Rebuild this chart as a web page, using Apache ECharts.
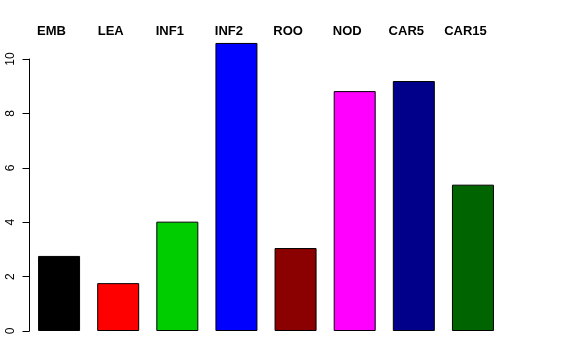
<!DOCTYPE html>
<html>
<head>
<meta charset="utf-8">
<script src="https://cdn.jsdelivr.net/npm/echarts@6/dist/echarts.min.js"></script>
<style>html,body{margin:0;padding:0;background:#fff}#c{width:576px;height:360px}</style>
</head>
<body>
<div id="c"></div>
<script>
var categories = ["EMB", "LEA", "INF1", "INF2", "ROO", "NOD", "CAR5", "CAR15"];
var values = [2.76, 1.76, 4.02, 10.59, 3.05, 8.82, 9.19, 5.38];
var barColors = ["#000000", "#FF0000", "#00CD00", "#0000FF", "#8B0000", "#FF00FF", "#00008B", "#006400"];
var yTicks = [0, 2, 4, 6, 8, 10];

var chart = echarts.init(document.getElementById('c'), null, {renderer: 'canvas'});
chart.setOption({
  animation: false,
  backgroundColor: '#ffffff',
  grid: {left: 29.5, right: 73.5, top: 59, bottom: 29, containLabel: false},
  xAxis: {
    type: 'category',
    data: categories,
    position: 'top',
    axisLine: {show: false},
    axisTick: {show: false},
    axisLabel: {
      margin: 21,
      fontFamily: 'Liberation Sans, Arial, sans-serif',
      fontSize: 13,
      fontWeight: 'bold',
      color: '#000',
      padding: [0, 15, 0, 0]
    }
  },
  yAxis: {
    type: 'value',
    min: yTicks[0],
    max: yTicks[yTicks.length - 1],
    interval: 2,
    splitLine: {show: false},
    axisLine: {show: true, lineStyle: {color: '#000', width: 1}},
    axisTick: {show: true, length: 7, lineStyle: {color: '#000'}},
    axisLabel: {
      rotate: 90,
      margin: 13,
      fontFamily: 'Liberation Sans, Arial, sans-serif',
      fontSize: 12,
      color: '#000'
    }
  },
  series: [{
    type: 'bar',
    clip: false,
    barWidth: 42,
    data: values.map(function (v, i) {
      return {value: v, itemStyle: {color: barColors[i], borderColor: '#000', borderWidth: 1}};
    })
  }]
});
</script>
</body>
</html>
